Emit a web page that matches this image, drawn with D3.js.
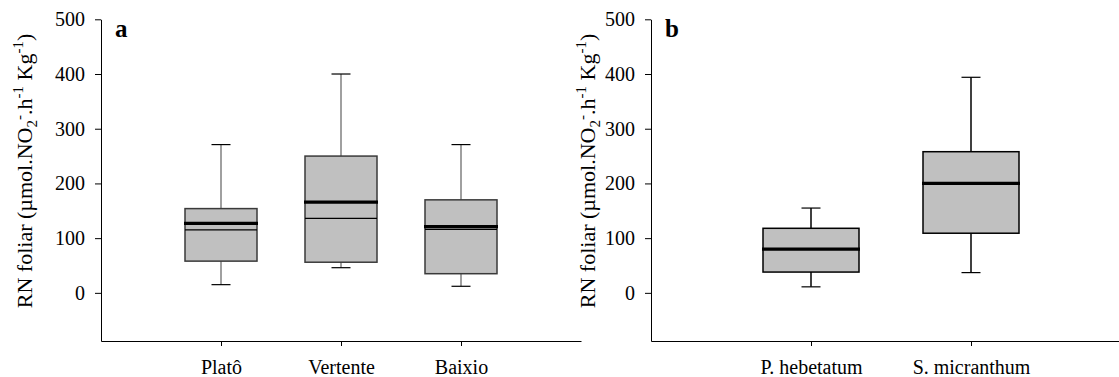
<!DOCTYPE html>
<html>
<head>
<meta charset="utf-8">
<script src="https://cdn.jsdelivr.net/npm/d3@7"></script>
<style>
  body { margin: 0; background: #fff; }
  svg { display: block; font-family: 'Liberation Serif', 'Times New Roman', serif; }
</style>
</head>
<body>
<div id="chart"></div>
<script>
// panel a
const catsA = ['Platô', 'Vertente', 'Baixio'];
const minA = [15, 46, 12];
const q1A = [58, 56, 35];
const medA = [127, 166, 121];
const meanA = [115, 136, 116];
const q3A = [154, 250, 170];
const maxA = [271, 400, 271];

// panel b
const catsB = ['P. hebetatum', 'S. micranthum'];
const minB = [11, 37];
const q1B = [38, 109];
const medB = [80, 200];
const meanB = [null, null];
const q3B = [118, 258];
const maxB = [155, 394];

const yTicks = [0, 100, 200, 300, 400, 500];

const w = 1119;
const h = 377;

const svg = d3.select('#chart')
    .append('svg')
    .attr('width', w)
    .attr('height', h);

const yScale = d3.scaleLinear()
    .domain([-88, 500])
    .range([341, 19.3]);

function panel(opts) {
    const rows = opts.cats.map((c, i) => ({
        cat: c, min: opts.min[i], q1: opts.q1[i], med: opts.med[i],
        mean: opts.mean[i], q3: opts.q3[i], max: opts.max[i]
    }));

    const xScale = d3.scalePoint()
        .domain(opts.cats)
        .range([opts.x0, opts.x0 + 480])
        .padding(1);

    const g = svg.append('g');
    const bw = xScale.step() * 0.6;
    const cap = 19;

    // x axis
    const xAxis = d3.axisBottom(xScale)
        .tickSize(5)
        .tickSizeOuter(0)
        .tickPadding(14);
    const gx = g.append('g')
        .attr('transform', 'translate(0,341)')
        .call(xAxis);
    gx.selectAll('text').attr('font-size', 20).attr('fill', '#000')
        .attr('font-family', "'Liberation Serif', serif");
    gx.selectAll('line, path').attr('stroke', '#000');

    // y axis
    const yAxis = d3.axisLeft(yScale)
        .tickValues(yTicks)
        .tickSize(6)
        .tickSizeOuter(0)
        .tickPadding(10);
    const gy = g.append('g')
        .attr('transform', 'translate(' + opts.x0 + ',0)')
        .call(yAxis);
    gy.selectAll('text').attr('font-size', 20).attr('fill', '#000')
        .attr('font-family', "'Liberation Serif', serif");
    gy.selectAll('line, path').attr('stroke', '#000');

    const box = g.selectAll('.box')
        .data(rows)
        .enter()
        .append('g')
        .attr('class', 'box');

    // whiskers
    box.append('line')
        .attr('x1', d => xScale(d.cat))
        .attr('x2', d => xScale(d.cat))
        .attr('y1', d => yScale(d.max))
        .attr('y2', d => yScale(d.q3))
        .attr('stroke', opts.whisker)
        .attr('stroke-width', 1.5);
    box.append('line')
        .attr('x1', d => xScale(d.cat))
        .attr('x2', d => xScale(d.cat))
        .attr('y1', d => yScale(d.q1))
        .attr('y2', d => yScale(d.min))
        .attr('stroke', opts.whisker)
        .attr('stroke-width', 1.5);
    ['max', 'min'].forEach(k => {
        box.append('line')
            .attr('x1', d => xScale(d.cat) - cap / 2)
            .attr('x2', d => xScale(d.cat) + cap / 2)
            .attr('y1', d => yScale(d[k]))
            .attr('y2', d => yScale(d[k]))
            .attr('stroke', '#000')
            .attr('stroke-width', 1.2);
    });

    box.append('rect')
        .attr('x', d => xScale(d.cat) - bw / 2)
        .attr('y', d => yScale(d.q3))
        .attr('width', bw)
        .attr('height', d => yScale(d.q1) - yScale(d.q3))
        .attr('fill', '#c0c0c0')
        .attr('stroke', opts.boxStroke)
        .attr('stroke-width', 1.5);

    // mean (thin)
    box.filter(d => d.mean != null)
        .append('line')
        .attr('x1', d => xScale(d.cat) - bw / 2)
        .attr('x2', d => xScale(d.cat) + bw / 2)
        .attr('y1', d => yScale(d.mean))
        .attr('y2', d => yScale(d.mean))
        .attr('stroke', '#000')
        .attr('stroke-width', 1.2);

    // median (thick)
    box.append('line')
        .attr('x1', d => xScale(d.cat) - bw / 2 - 1)
        .attr('x2', d => xScale(d.cat) + bw / 2 + 1)
        .attr('y1', d => yScale(d.med))
        .attr('y2', d => yScale(d.med))
        .attr('stroke', '#000')
        .attr('stroke-width', 3.2);

    // panel letter
    g.append('text')
        .attr('x', opts.x0 + 14)
        .attr('y', 37)
        .attr('font-size', 25)
        .attr('font-weight', 'bold')
        .text(opts.letter);

    // y label
    const lab = g.append('text')
        .attr('transform', 'translate(' + opts.labX + ',171) rotate(-90)')
        .attr('text-anchor', 'middle')
        .attr('font-size', 22);
    lab.append('tspan').text('RN foliar (µmol.NO');
    lab.append('tspan').attr('font-size', 15).attr('dy', 5).text('2');
    lab.append('tspan').attr('font-size', 15).attr('dy', -13).text('-');
    lab.append('tspan').attr('dy', 8).text('.h');
    lab.append('tspan').attr('font-size', 15).attr('dy', -9).text('-1');
    lab.append('tspan').attr('dy', 9).text(' Kg');
    lab.append('tspan').attr('font-size', 15).attr('dy', -9).text('-1');
    lab.append('tspan').attr('dy', 9).text(')');
}

panel({
    cats: catsA, min: minA, q1: q1A, med: medA, mean: meanA, q3: q3A, max: maxA,
    x0: 101, letter: 'a', labX: 32, whisker: '#808080', boxStroke: '#3a3a3a'
});

panel({
    cats: catsB, min: minB, q1: q1B, med: medB, mean: meanB, q3: q3B, max: maxB,
    x0: 651, letter: 'b', labX: 595, whisker: '#000', boxStroke: '#000'
});
</script>
</body>
</html>
